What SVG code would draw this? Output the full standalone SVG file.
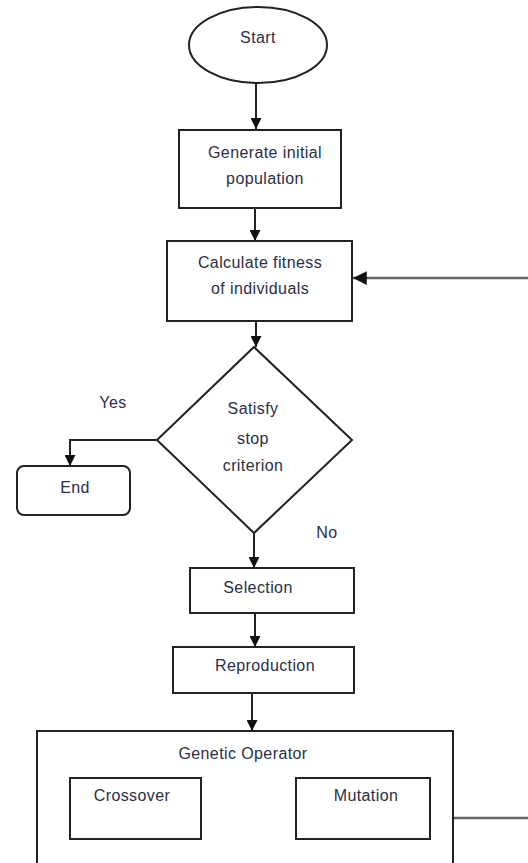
<svg xmlns="http://www.w3.org/2000/svg" width="528" height="863" viewBox="0 0 528 863">
<defs>
<style>
.box{fill:#fff;stroke:#222;stroke-width:2}
.t{font-family:"Liberation Sans",Arial,sans-serif;font-size:16px;letter-spacing:0.4px;fill:#2a2f45;text-anchor:middle;dominant-baseline:central}
.c{fill:none;stroke:#222;stroke-width:2}
.g{fill:none;stroke:#666;stroke-width:2.5}
</style>
<marker id="ah" viewBox="0 0 10 10" refX="10" refY="5" markerWidth="5.5" markerHeight="5.5" orient="auto" markerUnits="strokeWidth">
<path d="M0,0 L10,5 L0,10 z" fill="#111"/>
</marker>
</defs>
<rect width="528" height="863" fill="#fff"/>
<g id="connectors">
<line class="c" x1="256" y1="83" x2="256" y2="129" marker-end="url(#ah)"/>
<line class="c" x1="255" y1="208" x2="255" y2="241" marker-end="url(#ah)"/>
<line class="g" x1="528" y1="278" x2="353" y2="278" marker-end="url(#ah)"/>
<line class="c" x1="256" y1="321" x2="256" y2="347" marker-end="url(#ah)"/>
<polyline class="c" points="157,440 70,440 70,466" marker-end="url(#ah)"/>
<line class="c" x1="254" y1="533" x2="254" y2="568" marker-end="url(#ah)"/>
<line class="c" x1="255" y1="613" x2="255" y2="647" marker-end="url(#ah)"/>
<line class="c" x1="252" y1="693" x2="252" y2="731" marker-end="url(#ah)"/>
<line class="g" x1="453" y1="818" x2="528" y2="818"/>
</g>
<g id="start">
<ellipse class="box" cx="258" cy="45" rx="69" ry="38"/>
<text class="t" x="258" y="37">Start</text>
</g>
<g id="generate">
<rect class="box" x="179" y="130" width="162" height="78"/>
<text class="t" x="265" y="152">Generate initial</text>
<text class="t" x="265" y="178">population</text>
</g>
<g id="calculate">
<rect class="box" x="167" y="241" width="185" height="80"/>
<text class="t" x="260" y="262">Calculate fitness</text>
<text class="t" x="260" y="288">of individuals</text>
</g>
<g id="decision">
<polygon class="box" points="254,347 352,440 254,533 157,440"/>
<text class="t" x="253" y="408">Satisfy</text>
<text class="t" x="253" y="438">stop</text>
<text class="t" x="253" y="465">criterion</text>
</g>
<g id="yes-label"><text class="t" x="113" y="402">Yes</text></g>
<g id="no-label"><text class="t" x="327" y="532">No</text></g>
<g id="end">
<rect class="box" x="17" y="466" width="113" height="49" rx="7"/>
<text class="t" x="75" y="487">End</text>
</g>
<g id="selection">
<rect class="box" x="190" y="568" width="164" height="45"/>
<text class="t" x="258" y="587">Selection</text>
</g>
<g id="reproduction">
<rect class="box" x="173" y="647" width="181" height="46"/>
<text class="t" x="265" y="665">Reproduction</text>
</g>
<g id="genetic-operator">
<rect class="box" x="37" y="731" width="416" height="150"/>
<text class="t" x="243" y="753">Genetic Operator</text>
</g>
<g id="crossover">
<rect class="box" x="70" y="778" width="131" height="61"/>
<text class="t" x="132" y="795">Crossover</text>
</g>
<g id="mutation">
<rect class="box" x="296" y="778" width="134" height="61"/>
<text class="t" x="366" y="795">Mutation</text>
</g>
</svg>
